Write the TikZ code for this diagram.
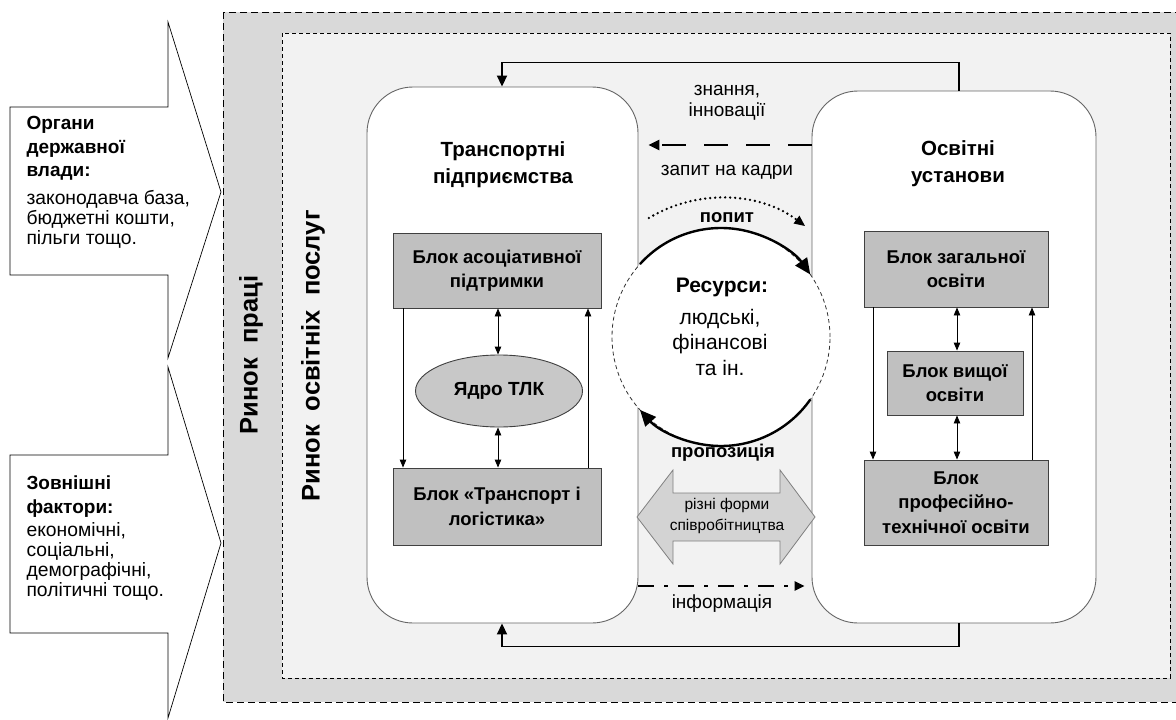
\documentclass[tikz,border=0pt]{standalone}
\usepackage{fontspec}
\setmainfont{Liberation Sans}
\usetikzlibrary{arrows.meta,calc,shapes.geometric}
\definecolor{outerbg}{HTML}{D9D9D9}
\definecolor{innerbg}{HTML}{F2F2F2}
\definecolor{blockgray}{HTML}{C0C0C0}
\definecolor{ellgray}{HTML}{C8C8C8}
\definecolor{arrgray}{HTML}{D3D3D3}
\definecolor{edge}{HTML}{404040}
\begin{document}
\begin{tikzpicture}[x=1pt,y=1pt,
  bigarrow/.style={draw=black, fill=white, line width=0.7pt},
  bigbox/.style={draw=edge!80, fill=white, rounded corners=46pt, inner sep=0pt, line width=0.9pt},
  blk/.style={draw=edge, fill=blockgray, inner sep=0pt, line width=0.9pt, align=center,
     font=\bfseries\fontsize{18.5}{24.5}\selectfont},
  ttl/.style={align=center, font=\bfseries\fontsize{20.5}{27}\selectfont},
  lbold/.style={anchor=base west, font=\bfseries\fontsize{19}{22}\selectfont},
  lnorm/.style={anchor=base west, font=\fontsize{19.3}{20}\selectfont},
  ctext/.style={align=center, font=\fontsize{19}{21}\selectfont},
  btext/.style={align=center, font=\bfseries\fontsize{18.5}{21}\selectfont},
  vlab/.style={rotate=90, font=\bfseries\fontsize{25.5}{28}\selectfont},
  conn/.style={line width=0.9pt, -{Triangle[length=8pt,width=6.5pt]}},
  dconn/.style={line width=0.9pt, {Triangle[length=8pt,width=6.5pt]}-{Triangle[length=8pt,width=6.5pt]}},
  outconn/.style={line width=1.8pt, -{Triangle[length=11pt,width=10pt]}}
]
\useasboundingbox (0,0) rectangle (1176,-720);

% background frames
\draw[fill=outerbg, dash pattern=on 7pt off 4pt, line width=0.9pt] (223,-12) rectangle (1195,-702);
\draw[fill=innerbg, dash pattern=on 4pt off 3pt, line width=0.9pt] (282,-33) rectangle (1170,-678);

% left big arrows
\draw[bigarrow] (10,-107) -- (168,-107) -- (168,-22) -- (221,-192) -- (168,-358) -- (168,-275) -- (10,-275) -- cycle;
\draw[bigarrow] (10,-455) -- (168,-455) -- (168,-367) -- (221,-543) -- (168,-718) -- (168,-633) -- (10,-633) -- cycle;

\node[lbold] (a1) at (23,-129) {Органи};
\node[lbold] (a2) at (23,-153) {державної};
\node[lbold] (a3) at (23,-176) {влади:};
\node[lnorm] (a4) at (23,-204) {законодавча база,};
\node[lnorm] (a5) at (23,-224) {бюджетні кошти,};
\node[lnorm] (a6) at (23,-244) {пільги тощо.};

\node[lbold] (z1) at (23,-489) {Зовнішні};
\node[lbold] (z2) at (23,-513) {фактори:};
\node[lnorm] (z3) at (23,-536) {економічні,};
\node[lnorm] (z4) at (23,-556) {соціальні,};
\node[lnorm] (z5) at (23,-576) {демографічні,};
\node[lnorm] (z6) at (23,-596) {політичні тощо.};

% vertical labels
\node[vlab] (rp) at (251,-355) {Ринок\hspace{14pt}праці};
\node[vlab] (ros) at (313,-356) {Ринок\hspace{14pt}освітніх\hspace{14pt}послуг};

% big rounded boxes
\node[bigbox, minimum width=271pt, minimum height=536pt] (tp) at (502.5,-355) {};
\node[bigbox, minimum width=284pt, minimum height=532pt] (ou) at (954,-357) {};

\node[ttl] (tpt) at (503,-165) {Транспортні\\підприємства};
\node[ttl] (out) at (958,-164) {Освітні\\установи};

% left blocks
\node[blk, minimum width=208pt, minimum height=75pt] (b1) at (497,-270.5) {Блок асоціативної\\підтримки};
\node[draw=edge, fill=ellgray, ellipse, inner sep=0pt, line width=0.9pt, minimum width=167pt, minimum height=72pt,
      font=\bfseries\fontsize{19}{24}\selectfont] (ell) at (499,-391) {Ядро ТЛК};
\node[blk, minimum width=208pt, minimum height=77pt] (b2) at (497,-506.5) {Блок «Транспорт і\\логістика»};

% right blocks
\node[blk, minimum width=184pt, minimum height=76pt] (r1) at (956,-269) {Блок загальної\\освіти};
\node[blk, minimum width=136pt, minimum height=64pt] (r2) at (955,-383) {Блок вищої\\освіти};
\node[blk, minimum width=184pt, minimum height=85pt] (r3) at (956,-502.5) {Блок\\професійно-\\технічної освіти};

% inner connectors
\coordinate (xl1) at (403,0);
\coordinate (xr1) at (588,0);
\coordinate (xm1) at (498,0);
\draw[conn] (xl1 |- b1.south) -- (xl1 |- b2.north);
\draw[conn] (xr1 |- b2.north) -- (xr1 |- b1.south);
\draw[dconn] (xm1 |- b1.south) -- (xm1 |- ell.north);
\draw[dconn] (xm1 |- ell.south) -- (xm1 |- b2.north);

\coordinate (xl2) at (873,0);
\coordinate (xr2) at (1032,0);
\coordinate (xm2) at (957,0);
\draw[conn] (xl2 |- r1.south) -- (xl2 |- r3.north);
\draw[conn] (xr2 |- r3.north) -- (xr2 |- r1.south);
\draw[dconn] (xm2 |- r1.south) -- (xm2 |- r2.north);
\draw[dconn] (xm2 |- r2.south) -- (xm2 |- r3.north);

% outer connectors
\coordinate (xt) at (959,0);
\coordinate (xs) at (502,0);
\draw[outconn] (xt |- ou.north) -- ++(0,28) -| (xs |- tp.north);
\draw[outconn] (xt |- ou.south) -- ++(0,-23) -| (xs |- tp.south);

% resources circle
\node[circle, draw=black!80, dash pattern=on 4pt off 3pt, fill=white, minimum size=218pt, inner sep=0pt, line width=0.8pt] (res) at (721,-337) {};
\node[font=\bfseries\fontsize{21}{22}\selectfont] (rest1) at (722,-287) {Ресурси:};
\node[align=center, font=\fontsize{21}{25.5}\selectfont] (rest2) at (720,-342) {людські,\\фінансові\\та ін.};

% arcs
\draw[line width=2.4pt, -{Triangle[length=16pt,width=14pt]}] ($(res.center)+(138:109)$) arc[start angle=138, end angle=35, radius=109pt];
\draw[line width=2.4pt, -{Triangle[length=16pt,width=14pt]}] ($(res.center)+(-35:109)$) arc[start angle=-35, end angle=-138, radius=109pt];
\draw[line width=2.6pt, line cap=round, dash pattern=on 0pt off 5pt, -{Triangle[length=11pt,width=9pt]}] ($(res.center)+(0,-1)+(121:140)$) arc[start angle=121, end angle=53, radius=140pt];

\node[btext] (pop) at (727,-218) {попит};
\node[btext] (prop) at (723,-453) {пропозиція};

% knowledge arrow
\draw[line width=2.6pt, dash pattern=on 24pt off 18pt, -{Triangle[length=11pt,width=10pt]}] (ou.west |- 0,-145) -- ($(tp.east |- 0,-145)+(10,0)$);
\node[ctext] (zn) at (727,-103) {знання,\\інновації};
\node[ctext] (zk) at (727,-172) {запит на кадри};

% cooperation double arrow
\draw[draw=gray, fill=arrgray, line width=0.8pt] (637,-517) -- (673,-470) -- (673,-493) -- (780,-493) -- (780,-470) -- (815,-517) -- (780,-564) -- (780,-541) -- (673,-541) -- (673,-564) -- cycle;
\node[align=center, font=\fontsize{15.5}{21}\selectfont] (rf) at (727,-516) {різні форми\\співробітництва};

% information arrow
\draw[line width=2.6pt, dash pattern=on 16pt off 10pt on 4pt off 10pt, -{Triangle[length=10pt,width=9pt]}] (tp.east |- 0,-586) -- ($(ou.west |- 0,-586)+(-7,0)$);
\node[ctext] (inf) at (722,-604) {інформація};
\end{tikzpicture}
\end{document}
